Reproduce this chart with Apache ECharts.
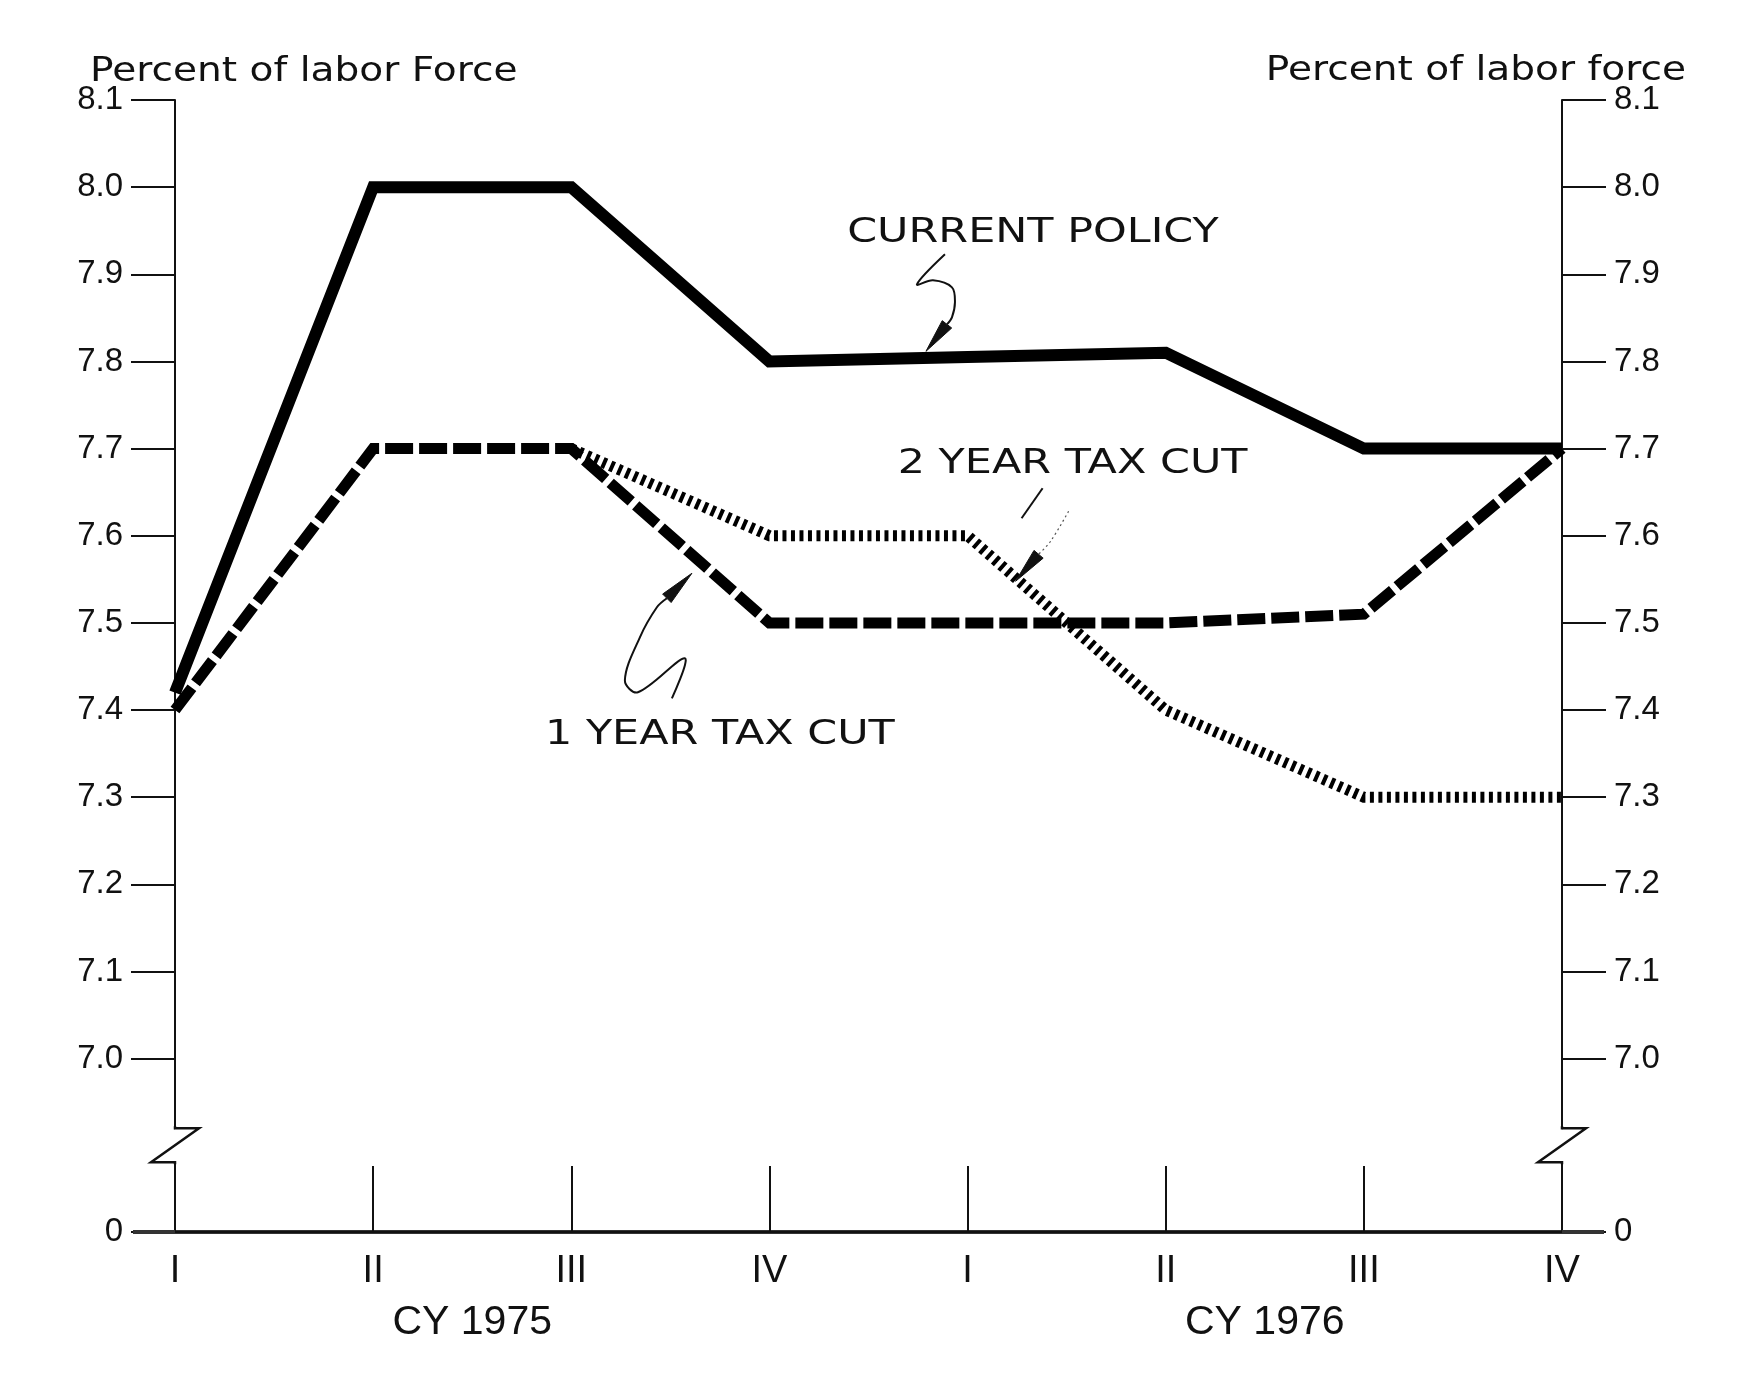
<!DOCTYPE html>
<html>
<head>
<meta charset="utf-8">
<title>Percent of labor force</title>
<script src="https://cdn.jsdelivr.net/npm/echarts@6/dist/echarts.min.js"></script>
<style>
  html, body { margin: 0; padding: 0; background: #fff; }
  #chart { width: 1738px; height: 1379px; }
</style>
</head>
<body>
<div id="chart"></div>
<script>
// quarters on the x axis, two calendar years
const quarters = ['I', 'II', 'III', 'IV', 'I', 'II', 'III', 'IV']
const years = ['CY 1975', 'CY 1976']

// unemployment, percent of labor force
const currentPolicy = [7.42, 8.0, 8.0, 7.8, 7.805, 7.81, 7.7, 7.7]
const oneYearCut = [7.4, 7.7, 7.7, 7.5, 7.5, 7.5, 7.51, 7.7]
const twoYearCut = [null, null, 7.7, 7.6, 7.6, 7.4, 7.3, 7.3]

// y ticks and the broken part of the scale
const yTicks = [0, 7.0, 7.1, 7.2, 7.3, 7.4, 7.5, 7.6, 7.7, 7.8, 7.9, 8.0, 8.1]
const yBreak = [0.08, 6.92]

const textFont = '"DejaVu Sans", sans-serif'
const numFont = '"Liberation Sans", sans-serif'
const ink = '#111'

const chart = echarts.init(document.getElementById('chart'))

const makeYAxis = (position) => ({
  type: 'value',
  position,
  min: 0,
  max: 8.1,
  breaks: [{ start: yBreak[0], end: yBreak[1], gap: '3%' }],
  breakArea: {
    show: true,
    expandOnClick: false,
    zigzagAmplitude: 0,
    itemStyle: { color: '#fff', borderColor: '#fff', borderWidth: 0, opacity: 1 }
  },
  axisLine: { show: true, lineStyle: { color: ink, width: 2 } },
  axisTick: {
    show: true,
    length: 44,
    customValues: yTicks,
    lineStyle: { color: ink, width: 2 }
  },
  axisLabel: {
    margin: 52,
    customValues: yTicks,
    formatter: v => (v === 0 ? '0' : v.toFixed(1)),
    fontFamily: numFont,
    fontSize: 33,
    color: ink
  },
  splitLine: { show: false }
})

const option = {
  animation: false,
  backgroundColor: '#fff',
  grid: {
    left: 175,
    right: 176,
    top: 100,
    bottom: 147,
    containLabel: false,
    outerBoundsMode: 'none'
  },
  xAxis: [
    {
      type: 'category',
      data: quarters,
      boundaryGap: false,
      position: 'bottom',
      axisLine: { show: true, lineStyle: { color: '#333', width: 4 } },
      axisTick: { show: true, inside: true, length: 66, lineStyle: { color: ink, width: 2 } },
      axisLabel: { margin: 21, fontFamily: numFont, fontSize: 38, color: ink },
      splitLine: { show: false }
    },
    {
      type: 'category',
      data: quarters,
      boundaryGap: false,
      position: 'top',
      axisLine: { show: true, lineStyle: { color: ink, width: 2 } },
      axisTick: { show: false },
      axisLabel: { show: false },
      splitLine: { show: false }
    }
  ],
  yAxis: [makeYAxis('left'), makeYAxis('right')],
  series: [
    {
      name: 'Current policy',
      type: 'line',
      data: currentPolicy,
      symbol: 'none',
      z: 3,
      lineStyle: { color: '#000', width: 12, join: 'miter' }
    },
    {
      name: '1 year tax cut',
      type: 'line',
      data: oneYearCut,
      symbol: 'none',
      z: 4,
      lineStyle: { color: '#000', width: 11, type: [28, 6], cap: 'butt', join: 'miter' }
    },
    {
      name: '2 year tax cut',
      type: 'line',
      data: twoYearCut,
      symbol: 'none',
      z: 5,
      lineStyle: { color: '#000', width: 11, type: [4, 4.5], cap: 'butt', join: 'miter' }
    }
  ]
}

chart.setOption(option)

// labels drawn on the chart, anchored at [quarter index, value]
// arrow points are pixel offsets from the label centre
const notes = [
  {
    text: 'CURRENT POLICY',
    at: [4.33, 7.947],
    strokes: [{ pts: [[-88, 21], [-116, 51], [-100, 47], [-81, 54], [-78, 69], [-81, 84], [-86, 91]] }],
    head: [[-86, 91], [-107, 118]]
  },
  {
    text: '2 YEAR TAX CUT',
    at: [4.53, 7.682],
    strokes: [
      { pts: [[-30, 24], [-51, 54]] },
      { pts: [[-4, 47], [-22, 77], [-34, 90]], faint: true }
    ],
    head: [[-34, 90], [-57, 117]]
  },
  {
    text: '1 YEAR TAX CUT',
    at: [2.75, 7.371],
    strokes: [{ pts: [[-48, -37], [-35, -77], [-82, -43], [-95, -55], [-80, -98], [-63, -128], [-53, -137]] }],
    head: [[-53, -137], [-28, -162]]
  }
]

const arrowHead = (base, tip, hw) => {
  const dx = tip[0] - base[0]
  const dy = tip[1] - base[1]
  const len = Math.hypot(dx, dy)
  const nx = -dy / len * hw
  const ny = dx / len * hw
  return [tip, [base[0] + nx, base[1] + ny], [base[0] - nx, base[1] - ny]]
}

// hand lettering is wide, so text is stretched sideways a little
const wideText = (text, x, y, size, stretch, align, font) => ({
  type: 'text',
  x,
  y,
  scaleX: stretch,
  style: {
    text,
    x: 0,
    y: 0,
    font: size + 'px ' + (font || textFont),
    fill: ink,
    align,
    verticalAlign: 'middle',
    textAlign: align,
    textVerticalAlign: 'middle'
  },
  z: 100
})

const drawExtras = () => {
  const xPix = i => chart.convertToPixel({ xAxisIndex: 0 }, i)
  const yPix = v => chart.convertToPixel({ yAxisIndex: 0 }, v)
  const x0 = xPix(0)
  const step = xPix(1) - x0
  const xAt = t => x0 + t * step
  const xEnd = xPix(quarters.length - 1)
  const yZero = yPix(0)
  const yTop = yPix(yBreak[1])
  const yBot = yPix(yBreak[0])
  const yMax = yPix(8.1)

  const elements = []

  // axis titles above both vertical axes
  elements.push(wideText('Percent of labor Force', x0 - 85, yMax - 28, 34, 1.15, 'left'))
  elements.push(wideText('Percent of labor force', xEnd + 124, yMax - 29, 34, 1.15, 'right'))

  // axis breaks drawn as a Z on both vertical axes
  ;[x0, xEnd].forEach(ax => {
    elements.push({
      type: 'rect',
      shape: { x: ax - 4, y: yTop + 1, width: 8, height: yBot - yTop - 2 },
      style: { fill: '#fff' },
      z: 100
    })
    elements.push({
      type: 'polyline',
      shape: { points: [[ax, yTop - 2], [ax, yTop], [ax + 24, yTop], [ax - 24, yBot], [ax, yBot], [ax, yBot + 2]] },
      style: { stroke: ink, lineWidth: 2.5, fill: null, lineJoin: 'miter' },
      z: 101
    })
  })

  // zero line runs out past both axes
  elements.push({
    type: 'line',
    shape: { x1: x0 - 42, y1: yZero, x2: x0, y2: yZero },
    style: { stroke: '#333', lineWidth: 4 },
    z: 100
  })
  elements.push({
    type: 'line',
    shape: { x1: xEnd, y1: yZero, x2: xEnd + 42, y2: yZero },
    style: { stroke: '#333', lineWidth: 4 },
    z: 100
  })

  // calendar year labels, centred between II and III
  years.forEach((y, i) => {
    elements.push(wideText(y, xAt(i * 4 + 1.5), yZero + 91, 41, 1, 'center', '"Liberation Sans", sans-serif'))
  })

  notes.forEach(n => {
    const cx = xAt(n.at[0])
    const cy = yPix(n.at[1])
    const abs = p => [cx + p[0], cy + p[1]]
    elements.push(wideText(n.text, cx, cy, 33, 1.3, 'center'))
    n.strokes.forEach(s => {
      elements.push({
        type: 'polyline',
        shape: { points: s.pts.map(abs), smooth: s.pts.length > 2 ? 0.35 : 0 },
        style: s.faint
          ? { stroke: '#555', lineWidth: 1.2, lineDash: [2, 3], fill: null }
          : { stroke: ink, lineWidth: 2, fill: null },
        z: 100
      })
    })
    elements.push({
      type: 'polygon',
      shape: { points: arrowHead(abs(n.head[0]), abs(n.head[1]), 6) },
      style: { fill: ink, stroke: ink, lineWidth: 1 },
      z: 100
    })
  })

  chart.setOption({ graphic: { elements } })
}

drawExtras()

window.addEventListener('resize', () => {
  chart.resize()
  drawExtras()
})
</script>
</body>
</html>
